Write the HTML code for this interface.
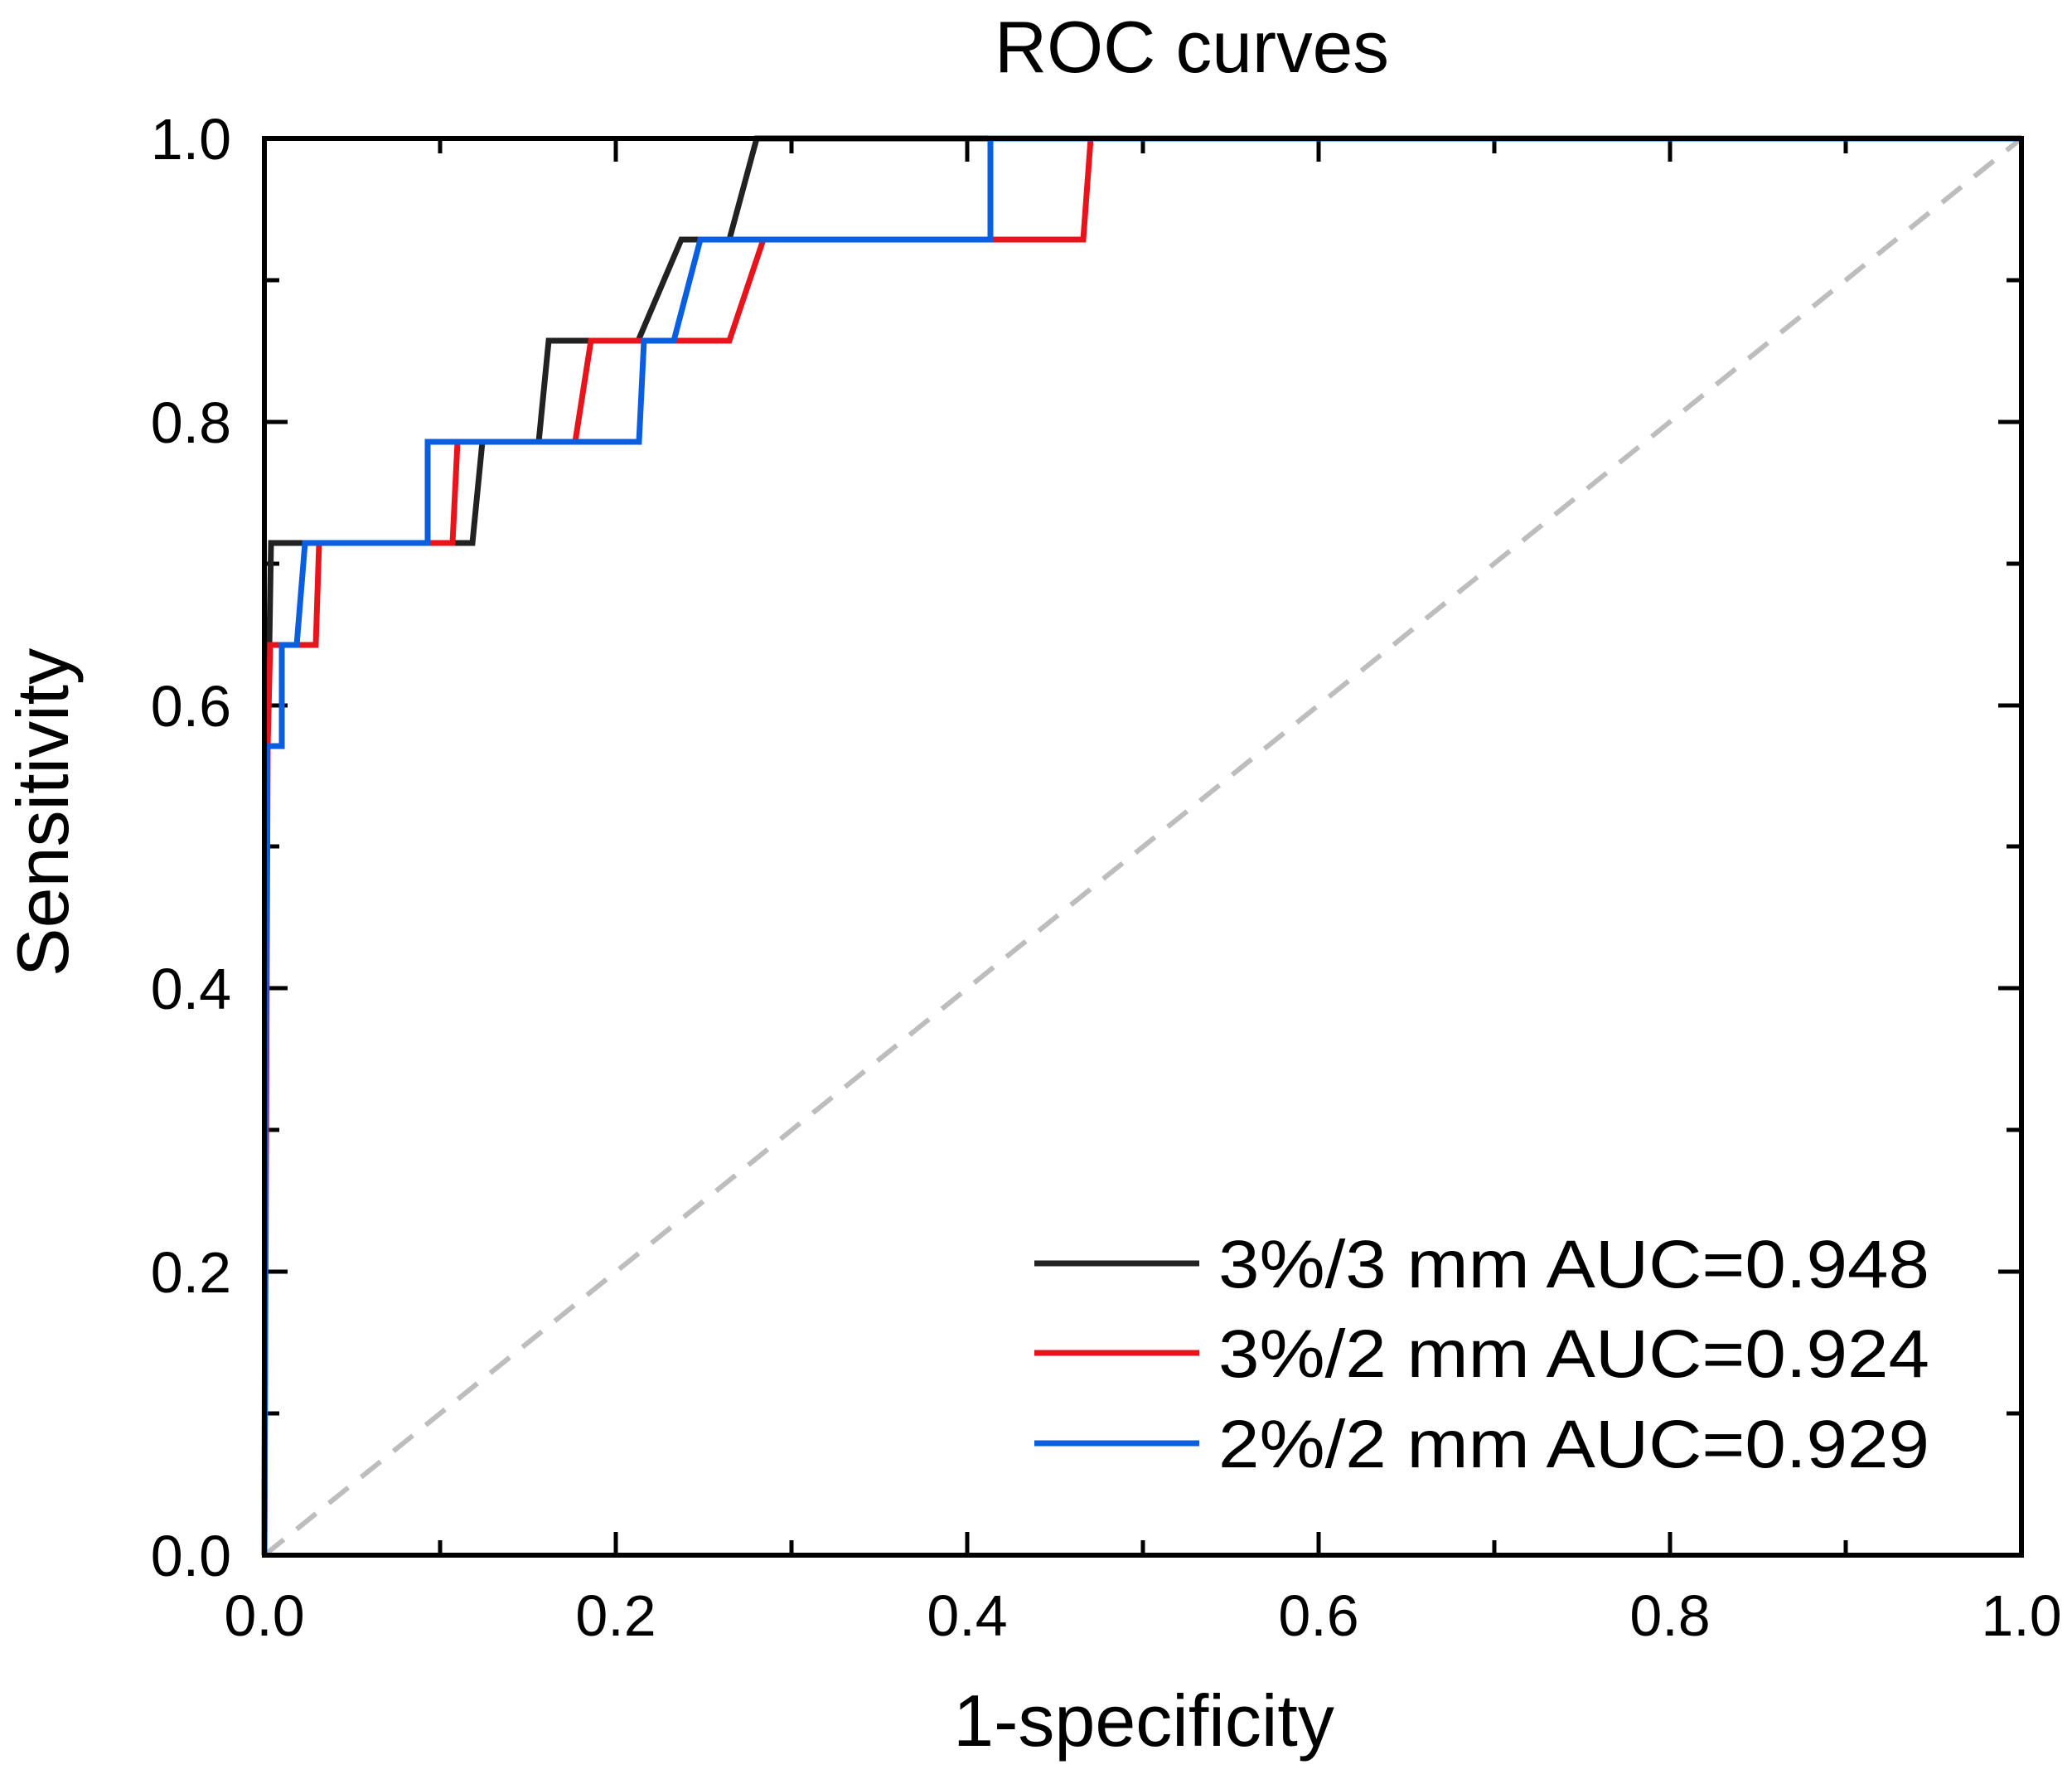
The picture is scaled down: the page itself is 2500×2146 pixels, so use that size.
<!DOCTYPE html>
<html><head><meta charset="utf-8"><style>html,body{margin:0;padding:0;background:#fff}svg{display:block}</style></head>
<body>
<svg width="2500" height="2146" viewBox="0 0 2500 2146" xmlns="http://www.w3.org/2000/svg" font-family="Liberation Sans, Arial, sans-serif">
<rect width="2500" height="2146" fill="#fff"/>
<text x="1438" y="87" font-size="88" text-anchor="middle" textLength="476" lengthAdjust="spacingAndGlyphs">ROC curves</text>
<line x1="319" y1="1876" x2="2439" y2="167" stroke="#bdbdbd" stroke-width="6" stroke-dasharray="30 20"/>
<g stroke="#000" stroke-width="5">
<path d="M319 1876V1848M743 1876V1848M1167 1876V1848M1591 1876V1848M2015 1876V1848M531 1876V1858M955 1876V1858M1379 1876V1858M1803 1876V1858M2227 1876V1858"/>
<path d="M319 167V195M743 167V195M1167 167V195M1591 167V195M2015 167V195M531 167V185M955 167V185M1379 167V185M1803 167V185M2227 167V185"/>
<path d="M319 1876H347M319 1534H347M319 1192H347M319 851H347M319 509H347M319 1705H337M319 1363H337M319 1021H337M319 680H337M319 338H337"/>
<path d="M2439 1876H2411M2439 1534H2411M2439 1192H2411M2439 851H2411M2439 509H2411M2439 1705H2421M2439 1363H2421M2439 1021H2421M2439 680H2421M2439 338H2421"/>
</g>
<g fill="none" stroke-width="7" stroke-linejoin="miter">
<polyline stroke="#222" points="319,1876 321,960 325,778 327,655 570,655 582,533 650,533 662,411 770,411 822,289 880,289 913,167 2439,167"/>
<polyline stroke="#e8141c" points="319,1876 323,900 326,778 381,778 385,655 385,655 546,655 552,533 694,533 713,411 880,411 921,289 1307,289 1316,167 2439,167"/>
<polyline stroke="#0a5ee0" points="319,1876 322,900 340,900 340,778 358,778 368,655 516,655 516,533 771,533 777,411 813,411 845,289 1195,289 1195,167 2439,167"/>
</g>
<rect x="319" y="167" width="2120" height="1709" fill="none" stroke="#000" stroke-width="6"/>
<g font-size="70" text-anchor="end">
<text x="279" y="192">1.0</text>
<text x="279" y="534">0.8</text>
<text x="279" y="876">0.6</text>
<text x="279" y="1217">0.4</text>
<text x="279" y="1559">0.2</text>
<text x="279" y="1901">0.0</text>
</g>
<g font-size="70" text-anchor="middle">
<text x="319" y="1973">0.0</text>
<text x="743" y="1973">0.2</text>
<text x="1167" y="1973">0.4</text>
<text x="1591" y="1973">0.6</text>
<text x="2015" y="1973">0.8</text>
<text x="2439" y="1973">1.0</text>
</g>
<text x="1380" y="2106" font-size="88" text-anchor="middle">1-specificity</text>
<text transform="translate(82,980) rotate(-90)" font-size="88" text-anchor="middle">Sensitivity</text>
<g stroke-width="7">
<line x1="1248" y1="1524" x2="1447" y2="1524" stroke="#222"/>
<line x1="1248" y1="1632" x2="1447" y2="1632" stroke="#e8141c"/>
<line x1="1248" y1="1741" x2="1447" y2="1741" stroke="#0a5ee0"/>
</g>
<g font-size="82">
<text x="1470" y="1553" textLength="858" lengthAdjust="spacingAndGlyphs">3%/3 mm AUC=0.948</text>
<text x="1470" y="1661" textLength="858" lengthAdjust="spacingAndGlyphs">3%/2 mm AUC=0.924</text>
<text x="1470" y="1770" textLength="858" lengthAdjust="spacingAndGlyphs">2%/2 mm AUC=0.929</text>
</g>
</svg>
</body></html>
